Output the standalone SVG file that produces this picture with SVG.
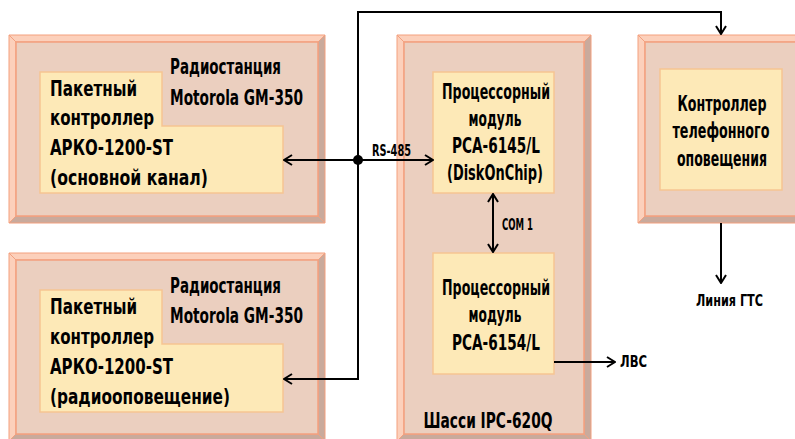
<svg xmlns="http://www.w3.org/2000/svg" width="795" height="439" viewBox="0 0 795 439">
<defs>
<style>
.face{fill:#ebcfbf;stroke:#f3a07f;stroke-width:1.5}
.lt{fill:#fcd0bb;stroke:#f3a07f;stroke-width:1}
.dk{fill:#c9aa9c;stroke:#f3a07f;stroke-width:1}
.yel{fill:#fde9b7;stroke:#f6c592;stroke-width:1.5}
.t{font-family:"DejaVu Sans Condensed","DejaVu Sans","Liberation Sans",sans-serif;font-weight:bold;font-size:21px;fill:#000}
.s{font-family:"DejaVu Sans Condensed","DejaVu Sans","Liberation Sans",sans-serif;font-weight:bold;font-size:16px;fill:#000}
.c{text-anchor:middle}
.ln{fill:none;stroke:#000;stroke-width:2}
</style>
<marker id="ah" viewBox="0 0 10 12" refX="9" refY="6" markerWidth="10" markerHeight="12" markerUnits="userSpaceOnUse" orient="auto-start-reverse">
<path d="M1,1 L9,6 L1,11" fill="none" stroke="#000" stroke-width="2"/>
</marker>
</defs>

<g id="radio1">
<polygon class="lt" points="9,35 325,35 318,42 16,42"/>
<polygon class="lt" points="9,35 16,42 16,216 9,223"/>
<polygon class="dk" points="9,223 16,216 318,216 325,223"/>
<polygon class="dk" points="325,35 325,223 318,216 318,42"/>
<rect class="face" x="16" y="42" width="302" height="174"/>
<polygon class="yel" points="40,72 162,72 162,126 283,126 283,193 40,193"/>
<text class="t" x="170" y="74" textLength="111" lengthAdjust="spacingAndGlyphs">Радиостанция</text>
<text class="t" x="170" y="105" textLength="133" lengthAdjust="spacingAndGlyphs">Motorola GM-350</text>
<text class="t" x="50" y="96" textLength="87" lengthAdjust="spacingAndGlyphs">Пакетный</text>
<text class="t" x="50" y="125" textLength="104" lengthAdjust="spacingAndGlyphs">контроллер</text>
<text class="t" x="50" y="155" textLength="123" lengthAdjust="spacingAndGlyphs">АРКО-1200-ST</text>
<text class="t" x="50" y="185" textLength="158" lengthAdjust="spacingAndGlyphs">(основной канал)</text>
</g>

<g id="radio2">
<polygon class="lt" points="9,253 325,253 318,260 16,260"/>
<polygon class="lt" points="9,253 16,260 16,434 9,441"/>
<polygon class="dk" points="9,441 16,434 318,434 325,441"/>
<polygon class="dk" points="325,253 325,441 318,434 318,260"/>
<rect class="face" x="16" y="260" width="302" height="174"/>
<polygon class="yel" points="40,290 162,290 162,344 283,344 283,412 40,412"/>
<text class="t" x="170" y="293" textLength="111" lengthAdjust="spacingAndGlyphs">Радиостанция</text>
<text class="t" x="170" y="323" textLength="133" lengthAdjust="spacingAndGlyphs">Motorola GM-350</text>
<text class="t" x="50" y="314" textLength="87" lengthAdjust="spacingAndGlyphs">Пакетный</text>
<text class="t" x="50" y="344" textLength="104" lengthAdjust="spacingAndGlyphs">контроллер</text>
<text class="t" x="50" y="374" textLength="123" lengthAdjust="spacingAndGlyphs">АРКО-1200-ST</text>
<text class="t" x="50" y="404" textLength="180" lengthAdjust="spacingAndGlyphs">(радиооповещение)</text>
</g>

<g id="chassis">
<polygon class="lt" points="397,35 591,35 584,42 404,42"/>
<polygon class="lt" points="397,35 404,42 404,434 397,441"/>
<polygon class="dk" points="397,441 404,434 584,434 591,441"/>
<polygon class="dk" points="591,35 591,441 584,434 584,42"/>
<rect class="face" x="404" y="42" width="180" height="392"/>
<text class="t c" x="488" y="428" textLength="129" lengthAdjust="spacingAndGlyphs">Шасси IPC-620Q</text>
</g>

<g id="cpu1">
<rect class="yel" x="433" y="72" width="121" height="121"/>
<text class="t c" x="496" y="99" textLength="108" lengthAdjust="spacingAndGlyphs">Процессорный</text>
<text class="t c" x="495" y="126" textLength="53" lengthAdjust="spacingAndGlyphs">модуль</text>
<text class="t c" x="496" y="153" textLength="88" lengthAdjust="spacingAndGlyphs">PCA-6145/L</text>
<text class="t c" x="495" y="180" textLength="96" lengthAdjust="spacingAndGlyphs">(DiskOnChip)</text>
</g>

<g id="cpu2">
<rect class="yel" x="433" y="253" width="121" height="121"/>
<text class="t c" x="496" y="295" textLength="108" lengthAdjust="spacingAndGlyphs">Процессорный</text>
<text class="t c" x="495" y="322" textLength="53" lengthAdjust="spacingAndGlyphs">модуль</text>
<text class="t c" x="496" y="350" textLength="88" lengthAdjust="spacingAndGlyphs">PCA-6154/L</text>
</g>

<g id="phone">
<polygon class="lt" points="638,35 802,35 795,42 645,42"/>
<polygon class="lt" points="638,35 645,42 645,216 638,223"/>
<polygon class="dk" points="638,223 645,216 795,216 802,223"/>
<rect class="face" x="645" y="42" width="160" height="174"/>
<rect class="yel" x="660" y="69" width="122" height="121"/>
<text class="t c" x="722" y="111" textLength="89" lengthAdjust="spacingAndGlyphs">Контроллер</text>
<text class="t c" x="721" y="138" textLength="97" lengthAdjust="spacingAndGlyphs">телефонного</text>
<text class="t c" x="722" y="166" textLength="90" lengthAdjust="spacingAndGlyphs">оповещения</text>
</g>

<g id="connectors">
<polyline class="ln" points="358,160 284,160" marker-end="url(#ah)"/>
<polyline class="ln" points="358,160 433,160" marker-end="url(#ah)"/>
<polyline class="ln" points="358,160 358,379 284,379" marker-end="url(#ah)"/>
<polyline class="ln" points="358,160 358,12 721,12 721,34" marker-end="url(#ah)"/>
<circle cx="358" cy="160" r="5" fill="#000"/>
<line class="ln" x1="493" y1="194" x2="493" y2="252" marker-start="url(#ah)" marker-end="url(#ah)"/>
<line class="ln" x1="554" y1="362" x2="615" y2="362" marker-end="url(#ah)"/>
<line class="ln" x1="721" y1="223" x2="721" y2="283" marker-end="url(#ah)"/>
<text class="s" x="372" y="156" textLength="39" lengthAdjust="spacingAndGlyphs">RS-485</text>
<text class="s" x="502" y="230" textLength="31" lengthAdjust="spacingAndGlyphs">COM 1</text>
<text class="s" x="620" y="367" textLength="27" lengthAdjust="spacingAndGlyphs">ЛВС</text>
<text class="s" x="696" y="306" textLength="67" lengthAdjust="spacingAndGlyphs">Линия ГТС</text>
</g>
</svg>
